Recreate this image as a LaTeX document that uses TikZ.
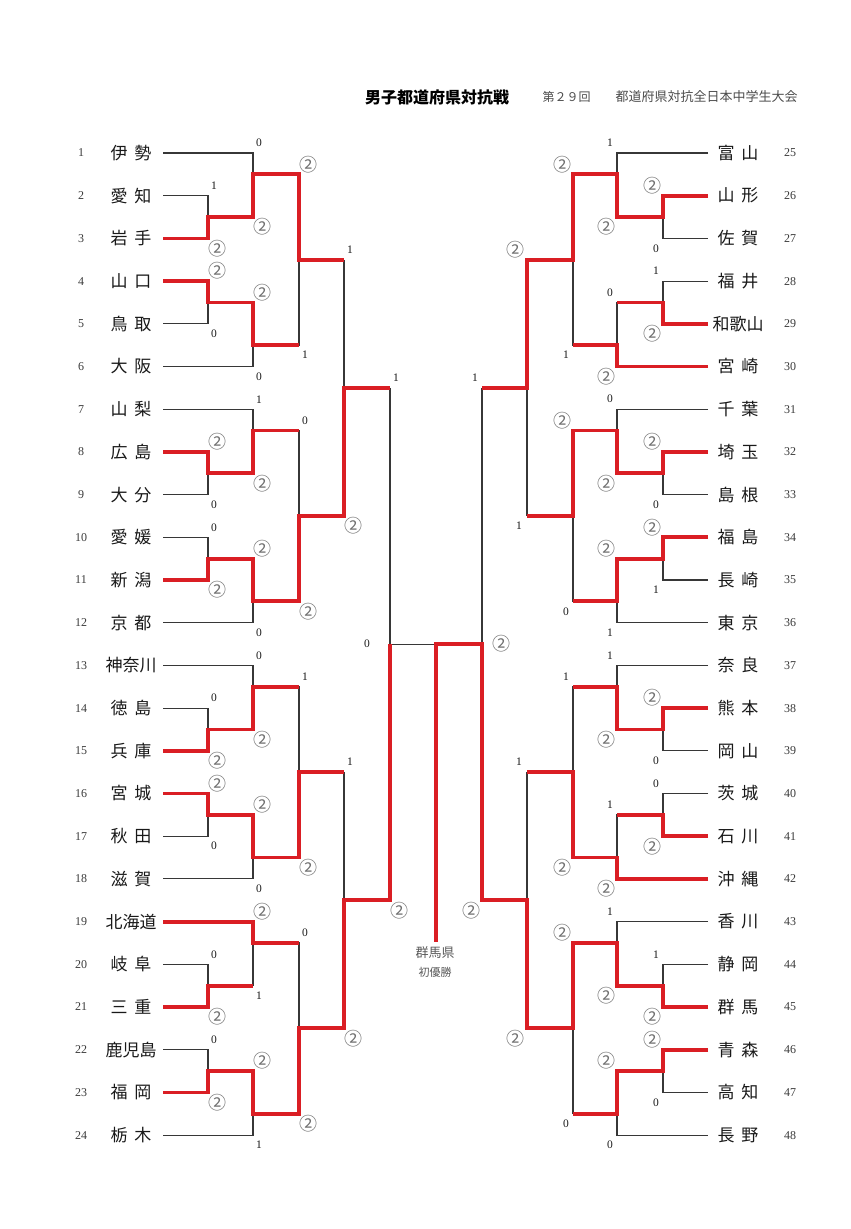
\documentclass[tikz,border=0pt]{standalone}
\usepackage{fontspec}
\setmainfont{Liberation Serif}
\newfontfamily\jp{Noto Sans CJK JP}
\definecolor{winred}{RGB}{218,30,36}
\definecolor{linegray}{RGB}{55,55,55}
\definecolor{circgray}{RGB}{110,110,110}
\definecolor{txtdark}{RGB}{25,25,25}
\newcommand\rowsp{42.7}
\newcommand\nsp{\kern7pt}
\newcommand\ct{{\jp\fontsize{18}{18}\selectfont\kern-2.5pt\textcolor{circgray}{②}\kern-2.5pt}}
\tikzset{
  base/.style={line width=1.1pt, draw=linegray},
  redpath/.style={line width=3.8pt, draw=winred, line join=miter},
  team/.style={font=\jp\fontsize{17}{17}\selectfont, text=txtdark, inner sep=0pt},
  num/.style={font=\fontsize{12}{12}\selectfont, text=txtdark!85, inner sep=0pt},
  score/.style={font=\fontsize{11.5}{11.5}\selectfont, text=txtdark, inner sep=0pt},
}
% block of six teams: id, Y(top team), X0 (line start), X1, X2, X3, X4
\newcommand\mkblock[7]{%
  \coordinate (#10s) at (#3,#2);
  \coordinate (#10e) at (#5,#2);
  \coordinate (#11s) at (#3,#2+\rowsp);
  \coordinate (#11e) at (#4,#2+\rowsp);
  \coordinate (#12s) at (#3,#2+2*\rowsp);
  \coordinate (#12e) at (#4,#2+2*\rowsp);
  \coordinate (#13s) at (#3,#2+3*\rowsp);
  \coordinate (#13e) at (#4,#2+3*\rowsp);
  \coordinate (#14s) at (#3,#2+4*\rowsp);
  \coordinate (#14e) at (#4,#2+4*\rowsp);
  \coordinate (#15s) at (#3,#2+5*\rowsp);
  \coordinate (#15e) at (#5,#2+5*\rowsp);
  \coordinate (#1c1a) at (#4,#2+1.5*\rowsp);
  \coordinate (#1c1b) at (#5,#2+1.5*\rowsp);
  \coordinate (#1c2a) at (#4,#2+3.5*\rowsp);
  \coordinate (#1c2b) at (#5,#2+3.5*\rowsp);
  \coordinate (#1o1a) at (#5,#2+0.5*\rowsp);
  \coordinate (#1o1b) at (#6,#2+0.5*\rowsp);
  \coordinate (#1o2a) at (#5,#2+4.5*\rowsp);
  \coordinate (#1o2b) at (#6,#2+4.5*\rowsp);
  \coordinate (#1oa) at (#6,#2+2.5*\rowsp);
  \coordinate (#1ob) at (#7,#2+2.5*\rowsp);
  \draw[base] (#10s) -- (#10e) -- (#1c1b) -- (#1c1a);
  \draw[base] (#11s) -- (#11e) -- (#12e) -- (#12s);
  \draw[base] (#13s) -- (#13e) -- (#14e) -- (#14s);
  \draw[base] (#1c2a) -- (#1c2b) -- (#15e) -- (#15s);
  \draw[base] (#1o1a) -- (#1o1b) -- (#1o2b) -- (#1o2a);
  \draw[base] (#1oa) -- (#1ob);
}
% scores of a block: Y, X1, X2, X3, anchor, dx, list of ten
\newcommand\mkscores[7]{%
  \foreach \sct [count=\i from 0] in {#7} {
    \pgfmathsetmacro\xx{{#2,#2,#2,#2,#3,#3,#3,#3,#4,#4}[\i]#6}
    \pgfmathsetmacro\yy{#1+{1,2,3,4,0,1.5,3.5,5,0.5,4.5}[\i]*\rowsp+{-10,10,-10,10,-10,10,-10,10,-10,10}[\i]}
    \node[score,anchor=#5] at (\xx,\yy) {\sct};
  }
}
\begin{document}
\begin{tikzpicture}[x=1pt,y=-1pt]
\fill[white] (0,0) rectangle (851,1229);
\useasboundingbox (0,0) rectangle (851,1229);

% titles
\node[font=\jp\bfseries\fontsize{16}{16}\selectfont, text=black] (title) at (437,97) {男子都道府県対抗戦};
\node[font=\jp\fontsize{12}{12}\selectfont, text=black!70, anchor=west] (sub1) at (539,97) {第２９回};
\node[font=\jp\fontsize{13}{13}\selectfont, text=black!70, anchor=west] (sub2) at (612,97) {都道府県対抗全日本中学生大会};

% teams
\foreach \nm [count=\i] in {伊\nsp{}勢,愛\nsp{}知,岩\nsp{}手,山\nsp{}口,鳥\nsp{}取,大\nsp{}阪,山\nsp{}梨,広\nsp{}島,大\nsp{}分,愛\nsp{}媛,新\nsp{}潟,京\nsp{}都,神奈川,徳\nsp{}島,兵\nsp{}庫,宮\nsp{}城,秋\nsp{}田,滋\nsp{}賀,北海道,岐\nsp{}阜,三\nsp{}重,鹿児島,福\nsp{}岡,栃\nsp{}木} {
  \node[team] (n\i) at (131,{153+(\i-1)*\rowsp}) {\nm};
  \node[num] (k\i) at (81,{153+(\i-1)*\rowsp}) {\i};
}
\foreach \nm [count=\i from 25] in {富\nsp{}山,山\nsp{}形,佐\nsp{}賀,福\nsp{}井,和歌山,宮\nsp{}崎,千\nsp{}葉,埼\nsp{}玉,島\nsp{}根,福\nsp{}島,長\nsp{}崎,東\nsp{}京,奈\nsp{}良,熊\nsp{}本,岡\nsp{}山,茨\nsp{}城,石\nsp{}川,沖\nsp{}縄,香\nsp{}川,静\nsp{}岡,群\nsp{}馬,青\nsp{}森,高\nsp{}知,長\nsp{}野} {
  \node[team] (n\i) at (738,{153+(\i-25)*\rowsp}) {\nm};
  \node[num] (k\i) at (790,{153+(\i-25)*\rowsp}) {\i};
}

% gray skeleton
\mkblock{A}{153}{163}{208}{253}{299}{344}
\mkblock{B}{409.2}{163}{208}{253}{299}{344}
\mkblock{C}{665.4}{163}{208}{253}{299}{344}
\mkblock{D}{921.6}{163}{208}{253}{299}{344}
\mkblock{E}{153}{708}{663}{617}{573}{527}
\mkblock{F}{409.2}{708}{663}{617}{573}{527}
\mkblock{G}{665.4}{708}{663}{617}{573}{527}
\mkblock{H}{921.6}{708}{663}{617}{573}{527}

\coordinate (Q1a) at (344,387.85);  \coordinate (Q1b) at (390,387.85);
\coordinate (Q2a) at (344,900.25);  \coordinate (Q2b) at (390,900.25);
\coordinate (Q3a) at (527,387.85);  \coordinate (Q3b) at (482,387.85);
\coordinate (Q4a) at (527,900.25);  \coordinate (Q4b) at (482,900.25);
\coordinate (SL) at (390,644.05);   \coordinate (SR) at (482,644.05);
\coordinate (CT) at (436,644.05);   \coordinate (CB) at (436,942);

\draw[base] (Aob) -- (Bob);  \draw[base] (Q1a) -- (Q1b);
\draw[base] (Cob) -- (Dob);  \draw[base] (Q2a) -- (Q2b);
\draw[base] (Eob) -- (Fob);  \draw[base] (Q3a) -- (Q3b);
\draw[base] (Gob) -- (Hob);  \draw[base] (Q4a) -- (Q4b);
\draw[base] (Q1b) -- (Q2b);  \draw[base] (Q3b) -- (Q4b);
\draw[base] (SL) -- (SR);

% winners' paths (red)
\draw[redpath] (A2s) -- (A2e) -- (Ac1a) -- (Ac1b) -- (Ao1a) -- (Ao1b) -- (Aoa) -- (Aob);
\draw[redpath] (A3s) -- (A3e) -- (Ac2a) -- (Ac2b) -- (Ao2a) -- (Ao2b);
\draw[redpath] (B1s) -- (B1e) -- (Bc1a) -- (Bc1b) -- (Bo1a) -- (Bo1b);
\draw[redpath] (B4s) -- (B4e) -- (Bc2a) -- (Bc2b) -- (Bo2a) -- (Bo2b) -- (Boa) -- (Bob) -- (Q1a) -- (Q1b);
\draw[redpath] (C2s) -- (C2e) -- (Cc1a) -- (Cc1b) -- (Co1a) -- (Co1b);
\draw[redpath] (C3s) -- (C3e) -- (Cc2a) -- (Cc2b) -- (Co2a) -- (Co2b) -- (Coa) -- (Cob);
\draw[redpath] (D0s) -- (D0e) -- (Do1a) -- (Do1b);
\draw[redpath] (D2s) -- (D2e) -- (Dc1a) -- (Dc1b);
\draw[redpath] (D4s) -- (D4e) -- (Dc2a) -- (Dc2b) -- (Do2a) -- (Do2b) -- (Doa) -- (Dob) -- (Q2a) -- (Q2b) -- (SL);
\draw[redpath] (E1s) -- (E1e) -- (Ec1a) -- (Ec1b) -- (Eo1a) -- (Eo1b) -- (Eoa) -- (Eob) -- (Q3a) -- (Q3b);
\draw[redpath] (E4s) -- (E4e) -- (Ec2a) -- (Ec2b);
\draw[redpath] (E5s) -- (E5e) -- (Eo2a) -- (Eo2b);
\draw[redpath] (F1s) -- (F1e) -- (Fc1a) -- (Fc1b) -- (Fo1a) -- (Fo1b) -- (Foa) -- (Fob);
\draw[redpath] (F3s) -- (F3e) -- (Fc2a) -- (Fc2b) -- (Fo2a) -- (Fo2b);
\draw[redpath] (G1s) -- (G1e) -- (Gc1a) -- (Gc1b) -- (Go1a) -- (Go1b);
\draw[redpath] (G4s) -- (G4e) -- (Gc2a) -- (Gc2b);
\draw[redpath] (G5s) -- (G5e) -- (Go2a) -- (Go2b) -- (Goa) -- (Gob);
\draw[redpath] (H2s) -- (H2e) -- (Hc1a) -- (Hc1b) -- (Ho1a) -- (Ho1b) -- (Hoa) -- (Hob) -- (Q4a) -- (Q4b) -- (SR) -- (CT) -- (CB);
\draw[redpath] (H3s) -- (H3e) -- (Hc2a) -- (Hc2b) -- (Ho2a) -- (Ho2b);

% scores
\mkscores{153}{208}{253}{299}{west}{+3}{1,\ct,\ct,0,0,\ct,\ct,0,\ct,1}
\mkscores{409.2}{208}{253}{299}{west}{+3}{\ct,0,0,\ct,1,\ct,\ct,0,0,\ct}
\mkscores{665.4}{208}{253}{299}{west}{+3}{0,\ct,\ct,0,0,\ct,\ct,0,1,\ct}
\mkscores{921.6}{208}{253}{299}{west}{+3}{0,\ct,0,\ct,\ct,1,\ct,1,0,\ct}
\mkscores{153}{663}{617}{573}{east}{-4}{\ct,0,1,\ct,1,\ct,0,\ct,\ct,1}
\mkscores{409.2}{663}{617}{573}{east}{-4}{\ct,0,\ct,1,0,\ct,\ct,1,\ct,0}
\mkscores{665.4}{663}{617}{573}{east}{-4}{\ct,0,0,\ct,1,\ct,1,\ct,1,\ct}
\mkscores{921.6}{663}{617}{573}{east}{-4}{1,\ct,\ct,0,1,\ct,\ct,0,\ct,0}

\node[score,anchor=west] (q1t) at (347,249.75) {1};
\node[score,anchor=west] (q1b) at (347,525.95) {\ct};
\node[score,anchor=west] (q2t) at (347,762.15) {1};
\node[score,anchor=west] (q2b) at (347,1038.35) {\ct};
\node[score,anchor=east] (q3t) at (522,249.75) {\ct};
\node[score,anchor=east] (q3b) at (522,525.95) {1};
\node[score,anchor=east] (q4t) at (522,762.15) {1};
\node[score,anchor=east] (q4b) at (522,1038.35) {\ct};
\node[score,anchor=west] (slt) at (393,377.85) {1};
\node[score,anchor=west] (slb) at (393,910.25) {\ct};
\node[score,anchor=east] (srt) at (478,377.85) {1};
\node[score,anchor=east] (srb) at (478,910.25) {\ct};
\node[score,anchor=east] (fl) at (370,644) {0};
\node[score,anchor=west] (fr) at (495,644) {\ct};

% champion
\node[font=\jp\fontsize{13}{13}\selectfont, text=black!65] (champ) at (435,953) {群馬県};
\node[font=\jp\fontsize{11}{11}\selectfont, text=black!65] (first) at (435,972) {初優勝};
\end{tikzpicture}
\end{document}
